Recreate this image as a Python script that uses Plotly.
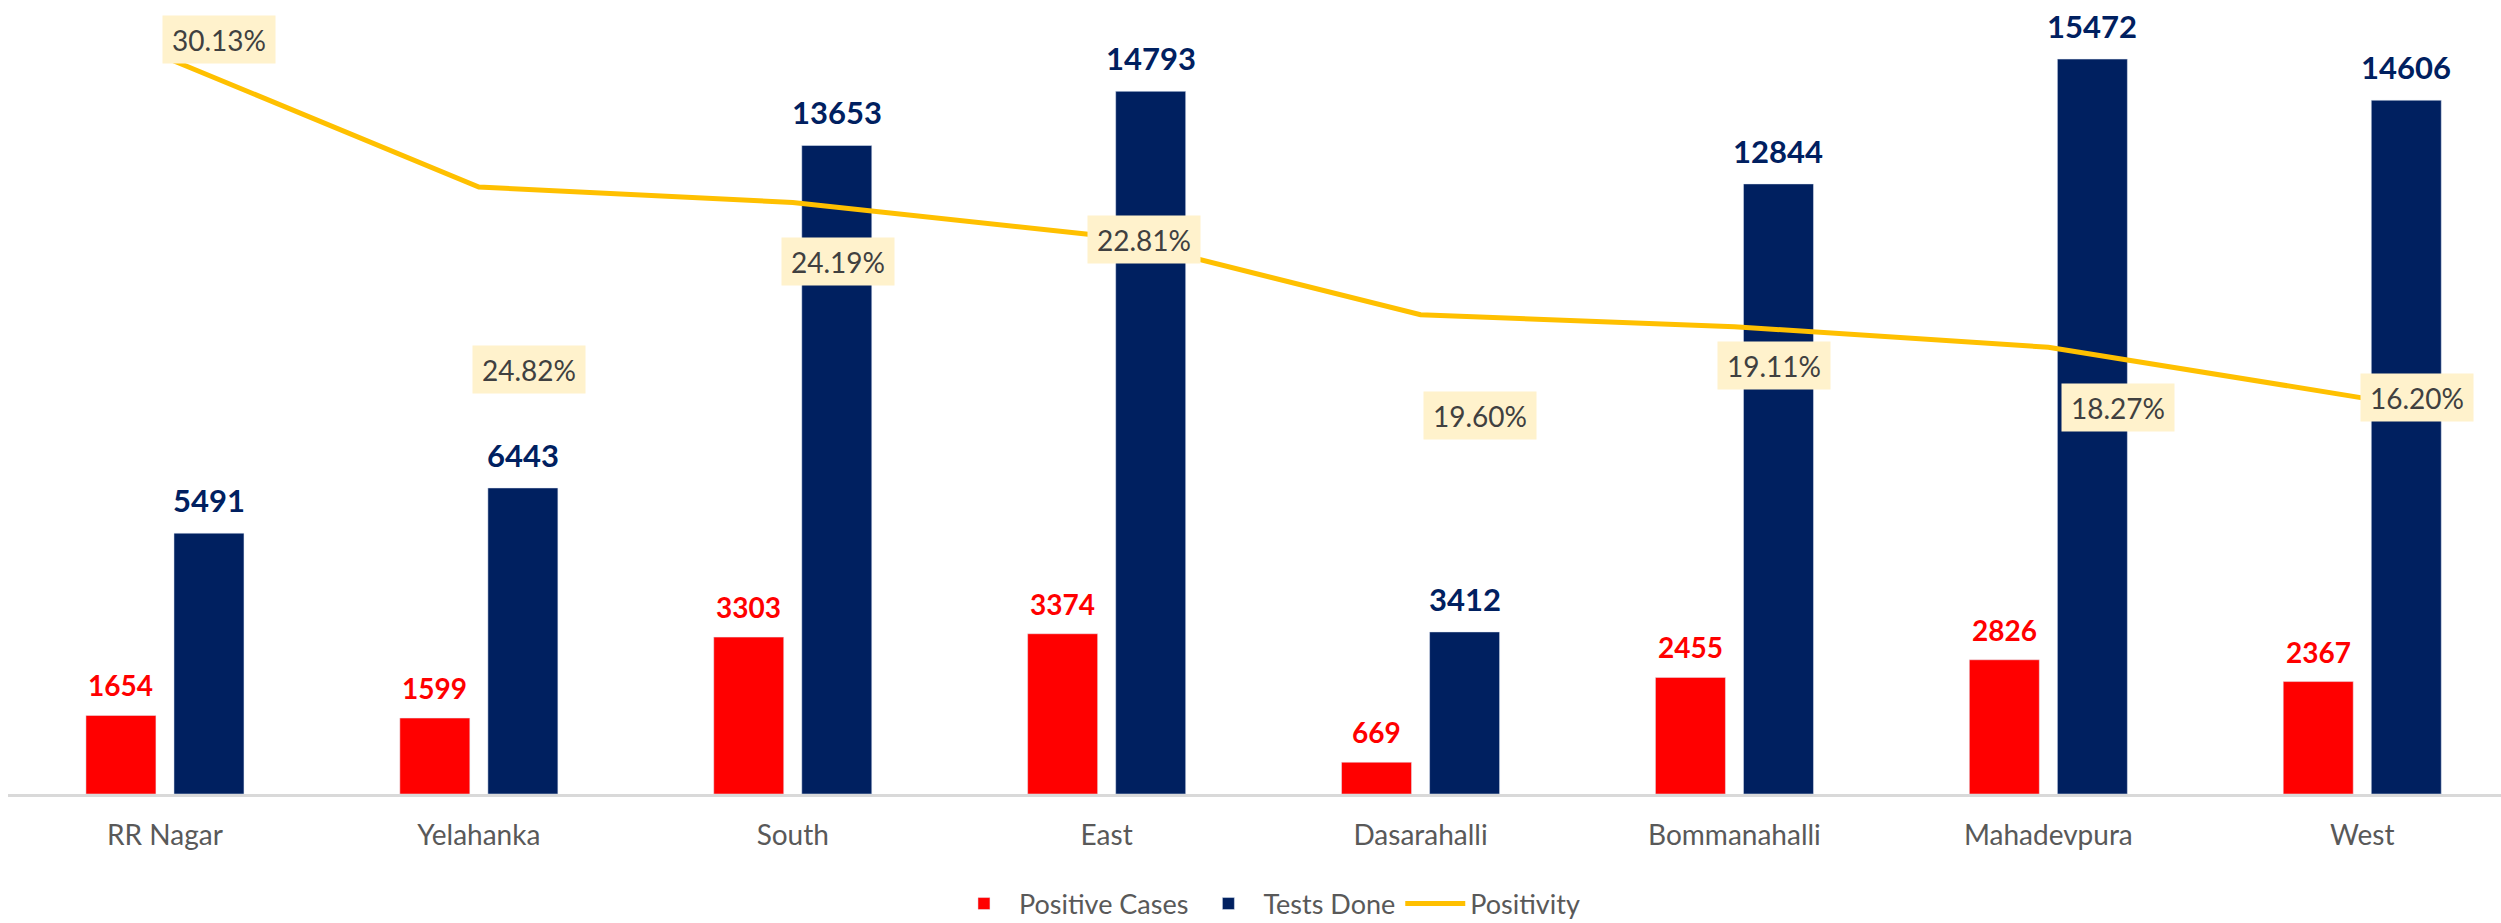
import plotly.graph_objects as go

categories = ["RR Nagar", "Yelahanka", "South", "East", "Dasarahalli",
              "Bommanahalli", "Mahadevpura", "West"]
positive_cases = [1654, 1599, 3303, 3374, 669, 2455, 2826, 2367]
tests_done = [5491, 6443, 13653, 14793, 3412, 12844, 15472, 14606]
positivity = [0.3013, 0.2482, 0.2419, 0.2281, 0.1960, 0.1911, 0.1827, 0.1620]

# label box offsets from the line points (px, x right / y down), as placed in the original
pct_dx = [54, 50, 45, 37, 59, 40, 70, 55]
pct_dy = [-18, 182, 59, 3, 101, 39, 60, 0]

RED = "#FF0000"
NAVY = "#002060"
GOLD = "#FFC000"
FONT = "Lato, sans-serif"

fig = go.Figure()

fig.add_trace(go.Bar(x=categories, y=positive_cases, name="Positive Cases",
                     marker_color=RED, hoverinfo="x+y"))
fig.add_trace(go.Bar(x=categories, y=tests_done, name="Tests Done",
                     marker_color=NAVY, hoverinfo="x+y"))
fig.add_trace(go.Scatter(x=categories, y=positivity, name="Positivity", yaxis="y2",
                         mode="lines", line=dict(color=GOLD, width=5)))

annotations = []
# bar value labels
for cat, pc, td in zip(categories, positive_cases, tests_done):
    annotations.append(dict(x=cat, y=pc, xref="x", yref="y", text=str(pc), showarrow=False,
                            xshift=-44, yshift=11, yanchor="bottom",
                            font=dict(family=FONT, size=28, color=RED, weight="bold")))
    annotations.append(dict(x=cat, y=td, xref="x", yref="y", text=str(td), showarrow=False,
                            xshift=44, yshift=12, yanchor="bottom",
                            font=dict(family=FONT, size=31, color=NAVY, weight="bold")))

# positivity labels
for cat, p, dx, dy in zip(categories, positivity, pct_dx, pct_dy):
    annotations.append(dict(x=cat, y=p, xref="x", yref="y2", text=f"{p * 100:.2f}%",
                            showarrow=False, xshift=dx, yshift=-dy,
                            xanchor="center", yanchor="middle",
                            width=104, height=39, borderpad=4, bgcolor="#FFF2CC",
                            font=dict(family=FONT, size=28, color="#404040")))

fig.update_layout(
    width=2501, height=923,
    margin=dict(l=8, r=0, t=0, b=129),
    paper_bgcolor="white", plot_bgcolor="white",
    barmode="group", bargap=0.439, bargroupgap=0.205,
    font=dict(family=FONT, color="#595959"),
    xaxis=dict(range=[-0.5, 7.442], showline=True, linecolor="#D9D9D9", linewidth=3,
               ticks="", showgrid=False, tickfont=dict(size=28, color="#595959"),
               ticklabelstandoff=14, automargin=False),
    yaxis=dict(range=[0, 16716], visible=False, showgrid=False),
    yaxis2=dict(range=[0, 0.3247], overlaying="y", side="right", visible=False,
                showgrid=False),
    legend=dict(orientation="h", x=0.505, xanchor="center",
                yref="container", y=0.0206, yanchor="middle",
                font=dict(size=27, color="#595959"), itemwidth=60, traceorder="normal"),
    annotations=annotations,
    showlegend=True,
)

# drop the default 8px page margin so the figure sits at the window's corner
fig.write_html("out.html", config={"displayModeBar": False},
               post_script="document.body.style.margin='0';")
